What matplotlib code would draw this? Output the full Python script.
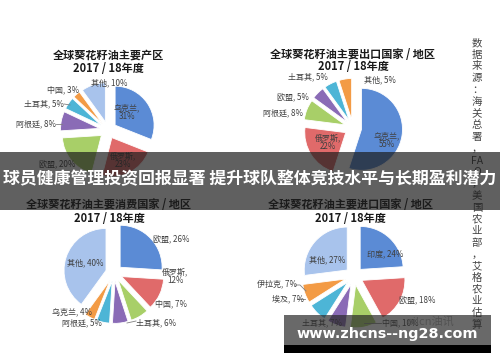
import matplotlib.pyplot as plt
from matplotlib.patches import Rectangle

plt.rcParams['font.family'] = ['Noto Sans CJK SC', 'DejaVu Sans']

W, H = 500, 362

# 全球葵花籽油主要产区
prod_names = ['乌克兰', '俄罗斯', '欧盟', '阿根廷', '土耳其', '中国', '其他']
prod_share = [31, 23, 20, 8, 5, 3, 10]

# 主要出口国家 / 地区
exp_names = ['乌克兰', '俄罗斯', '阿根廷', '欧盟', '土耳其', '其他']
exp_share = [55, 22, 8, 5, 5, 5]

# 主要消费国家 / 地区
cons_names = ['欧盟', '俄罗斯', '中国', '土耳其', '阿根廷', '乌克兰', '其他']
cons_share = [26, 12, 7, 6, 5, 4, 40]

# 主要进口国家 / 地区
imp_names = ['印度', '欧盟', '中国', '土耳其', '埃及', '伊拉克', '其他']
imp_share = [24, 18, 10, 7, 7, 7, 27]

source = ['数', '据', '来', '源', '：', '海', '关', '总', '署', '，', 'FA', 'O', '，',
          '美', '国', '农', '业', '部', '，', '艾', '格', '农', '业', '估', '算']

banner = '球员健康管理投资回报显著 提升球队整体竞技水平与长期盈利潜力'
site = 'www.zhcns--ng28.com'

# excel 风格配色
palette = ['#5b8bd5', '#e06a6a', '#a8cf68', '#8a6bb6', '#4db5d6', '#f39b45', '#a8c3ec']
label_color = '#404040'


def Y(y):
    # 像素坐标 -> 数据坐标（y 轴向上）
    return H - y


def draw_pie(ax, names, share, cx, cy, r, explode, labels, lines=()):
    # explode 在 pie 里是绝对单位，这里按半径换算
    ax.pie(share, colors=palette[:len(share)], startangle=90, counterclock=False,
           explode=[explode * r] * len(share), center=(cx, Y(cy)), radius=r, frame=True,
           wedgeprops=dict(edgecolor='white', linewidth=0.6))
    for name, val, (x, y, two) in zip(names, share, labels):
        sep = ',\n' if two else ', '
        ax.text(x, Y(y), f'{name}{sep}{val}%', ha='center', va='center',
                fontsize=5.8, color=label_color, linespacing=1.0)
    for pts in lines:
        ax.plot([p[0] for p in pts], [Y(p[1]) for p in pts], color='#808080', lw=0.6)


def title(ax, x, y, text):
    ax.text(x, Y(y), text, ha='center', va='center', fontsize=8, fontweight='bold',
            color='#1a1a1a')
    ax.text(x, Y(y + 13), '2017 / 18年度', ha='center', va='center', fontsize=8,
            fontweight='bold', color='#1a1a1a')


fig = plt.figure(figsize=(5, 3.62), dpi=100)
ax = fig.add_axes([0, 0, 1, 1])

title(ax, 108, 55, '全球葵花籽油主要产区')
draw_pie(ax, prod_names, prod_share, 108, 130, 39, 0.22,
         [(127, 112, True), (123, 160, True), (57, 164, False), (36, 124, False),
          (44, 104, False), (63, 90, False), (109, 83, False)],
         [[(56, 124), (62, 124)], [(64, 104), (70, 105)]])

title(ax, 353, 54, '全球葵花籽油主要出口国家 / 地区')
draw_pie(ax, exp_names, exp_share, 353, 128, 41, 0.21,
         [(387, 140, True), (328, 142, True), (283, 113, False), (293, 97, False),
          (308, 77, False), (380, 80, False)])

title(ax, 109, 205, '全球葵花籽油主要消费国家 / 地区')
draw_pie(ax, cons_names, cons_share, 114, 273, 42, 0.2,
         [(171, 239, False), (175, 276, True), (171, 304, False), (156, 323, False),
          (82, 323, False), (72, 312, False), (85, 263, False)],
         [[(127, 323), (136, 321)]])

title(ax, 350, 205, '全球葵花籽油主要进口国家 / 地区')
draw_pie(ax, imp_names, imp_share, 354, 276, 43, 0.21,
         [(385, 254, False), (417, 300, False), (400, 323, False), (322, 323, False),
          (288, 299, False), (277, 284, False), (327, 260, False)],
         [[(295, 285), (300, 285), (306, 291)], [(297, 299), (305, 299)],
          [(364, 323), (381, 323)]])

# 数据来源（竖排）
for i, ch in enumerate(source):
    ax.text(477, Y(43 + i * 11.75), ch, ha='center', va='center', fontsize=7.5,
            color='#444444')

# 横幅
ax.add_patch(Rectangle((0, Y(210)), W, 58, facecolor='#1c1c1c', alpha=0.7,
                       lw=0, zorder=10))
ax.text(W / 2, Y(179), banner, ha='center', va='center', fontsize=12.2,
        fontweight='bold', color='white', zorder=11)

# 水印
ax.text(430, Y(321), 'oilcn油讯', ha='center', va='center', fontsize=8,
        color='#b0b0b0', zorder=9)
ax.add_patch(Rectangle((284, Y(345)), 207, 30, facecolor='#2a2a2a', alpha=0.7,
                       lw=0, zorder=10))
ax.add_patch(Rectangle((284, Y(353)), 207, 8, facecolor='black', lw=0, zorder=10))
ax.text(387, Y(334), site, ha='center', va='center', fontsize=10.4,
        fontweight='bold', color='white', family='DejaVu Sans', zorder=11)

ax.set_xlim(0, W)
ax.set_ylim(0, H)
ax.axis('off')

fig.savefig('out.png', dpi=100)
